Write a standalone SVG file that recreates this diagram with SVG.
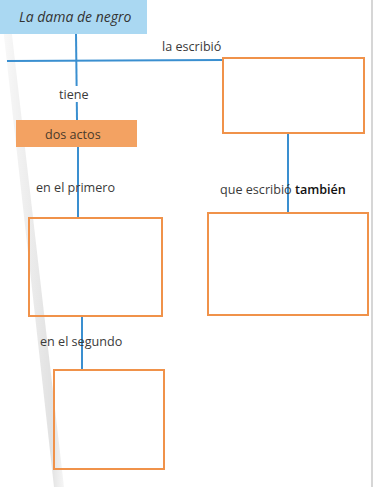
<svg xmlns="http://www.w3.org/2000/svg" width="377" height="487" viewBox="0 0 377 487">
<defs>
<style>
.lbl{font-family:"Open Sans","Liberation Sans",sans-serif;font-size:12.6px;fill:#3a3a3a}
.box{fill:none;stroke:#f0924a;stroke-width:2}
.con{stroke:#3a8fd0;stroke-width:2;fill:none}
</style>
<linearGradient id="sh" x1="0" y1="0" x2="1" y2="0">
<stop offset="0" stop-color="#fafafa"/>
<stop offset="0.8" stop-color="#e2e2e2"/>
<stop offset="1" stop-color="#f6f6f6"/>
</linearGradient>
</defs>
<rect width="377" height="487" fill="#fff"/>
<line x1="372" y1="0" x2="372" y2="487" stroke="#d6d6d6" stroke-width="2"/>
<polygon points="0,0 8,0 64,487 54,487" fill="url(#sh)"/>
<g id="connectors">
<line class="con" x1="76" y1="33" x2="77" y2="120"/>
<line class="con" x1="7" y1="61" x2="222" y2="60"/>
<line class="con" x1="78" y1="147" x2="78" y2="218"/>
<line class="con" x1="288" y1="133" x2="288" y2="213"/>
<line class="con" x1="82" y1="317" x2="82" y2="370"/>
</g>
<g id="n-title">
<rect x="0" y="0" width="147" height="34" fill="#aad8f2"/>
<text x="19" y="22" style="font-family:'Open Sans','Liberation Sans',sans-serif;font-size:14px;font-style:italic;fill:#333">La dama de negro</text>
</g>
<g id="e-escribio"><text class="lbl" x="162" y="51">la escribió</text></g>
<g id="n-autor">
<rect class="box" x="223" y="58" width="141" height="75"/>
</g>
<g id="e-tiene"><rect x="58" y="86" width="36" height="16" fill="#fff"/><text class="lbl" x="59" y="99">tiene</text></g>
<g id="n-actos">
<rect x="16" y="120" width="121" height="27" fill="#f3a262"/>
<text class="lbl" x="45" y="139" style="fill:#4a3a2a">dos actos</text>
</g>
<g id="e-primero"><text class="lbl" x="36" y="192">en el primero</text></g>
<g id="n-primero">
<rect class="box" x="29" y="218" width="133" height="98"/>
</g>
<g id="e-tambien"><text class="lbl" x="220" y="194">que escribió <tspan style="fill:#111;font-weight:600">también</tspan></text></g>
<g id="n-otra">
<rect class="box" x="208" y="213" width="160" height="102"/>
</g>
<g id="e-segundo"><text class="lbl" x="40" y="346">en el segundo</text></g>
<g id="n-segundo">
<rect class="box" x="54" y="370" width="110" height="99"/>
</g>
</svg>
